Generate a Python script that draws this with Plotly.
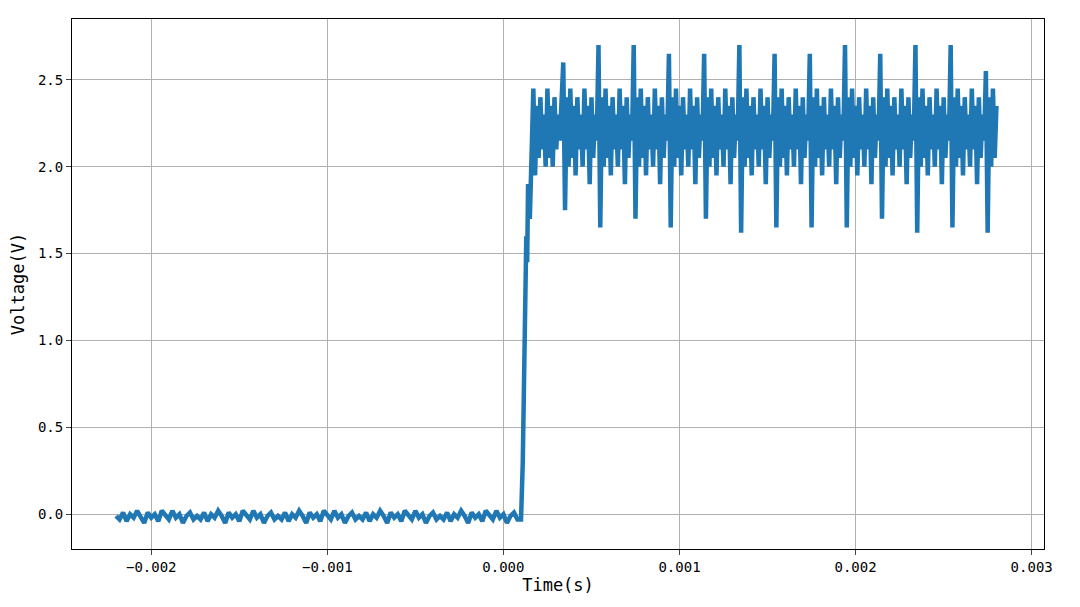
import plotly.graph_objects as go

base_t0 = -0.0022
base_dt = 0.00002
base_pattern = [-0.01, -0.03, 0.01, -0.04, 0.0, -0.02, 0.02, -0.01, -0.05, 0.01,
                -0.02, 0.0, -0.04, 0.02, -0.01, -0.03, 0.02, -0.02, 0.0, -0.05,
                -0.01, 0.01, -0.03]
base_v = base_pattern * 5
# fast edge
rise_t = [0.0001, 0.00011, 0.00012, 0.00013, 0.000135, 0.00014, 0.00015]
rise_v = [-0.03, 0.3, 1.1, 1.6, 1.45, 1.9, 1.7]
# high level: one spike + dip per 0.0002 s period, dt = 0.00001 s from 0.00016 s
high_t0 = 0.00016
high_dt = 0.00001
spike_top = [2.6, 2.7, 2.7, 2.65, 2.65, 2.7, 2.65, 2.65, 2.7, 2.65, 2.7, 2.7, 2.55]
spike_dip = [1.75, 1.65, 1.7, 1.65, 1.7, 1.62, 1.65, 1.65, 1.65, 1.7, 1.62, 1.65, 1.62]
period_shape = [2.4, 2.0, 2.45, 2.05, 2.35, 1.95, 2.4, 2.1, 2.3, 2.0,
                2.45, 2.1, 2.35, 1.9, 2.4, 2.05, 2.3, 2.15]
high_v = [2.2, 2.45, 1.95, 2.35, 2.05, 2.4, 2.1, 2.3, 2.0, 2.45,
          2.05, 2.35, 2.0, 2.4, 2.1, 2.3, 2.15, 2.4]
for top, dip in zip(spike_top, spike_dip):
    high_v += [top, dip] + period_shape
high_v = high_v[:265]

t = [base_t0 + i * base_dt for i in range(len(base_v))] + rise_t + \
    [high_t0 + i * high_dt for i in range(len(high_v))]
v = base_v + rise_v + high_v

fig = go.Figure(go.Scatter(x=t, y=v, mode="lines",
                           line=dict(color="#1f77b4", width=4.5)))

ax = dict(showline=True, linecolor="black", mirror=True, ticks="outside",
          gridcolor="#b0b0b0", zeroline=False, tickfont=dict(size=14))
fig.update_layout(
    width=1080, height=607, plot_bgcolor="white", paper_bgcolor="white",
    font=dict(family="DejaVu Sans Mono", color="black", size=14),
    margin=dict(l=64, r=44, t=11, b=66), showlegend=False,
    xaxis=dict(ax, range=[-0.00245, 0.00307], tickvals=[-0.002, -0.001, 0, 0.001, 0.002, 0.003],
               ticktext=["−0.002", "−0.001", "0.000", "0.001", "0.002", "0.003"],
               title=dict(text="Time(s)", standoff=2)),
    yaxis=dict(ax, range=[-0.2, 2.85], tickvals=[0, 0.5, 1, 1.5, 2, 2.5],
               ticktext=["0.0", "0.5", "1.0", "1.5", "2.0", "2.5"],
               title=dict(text="Voltage(V)", standoff=8)),
)
fig.write_html("out.html")
